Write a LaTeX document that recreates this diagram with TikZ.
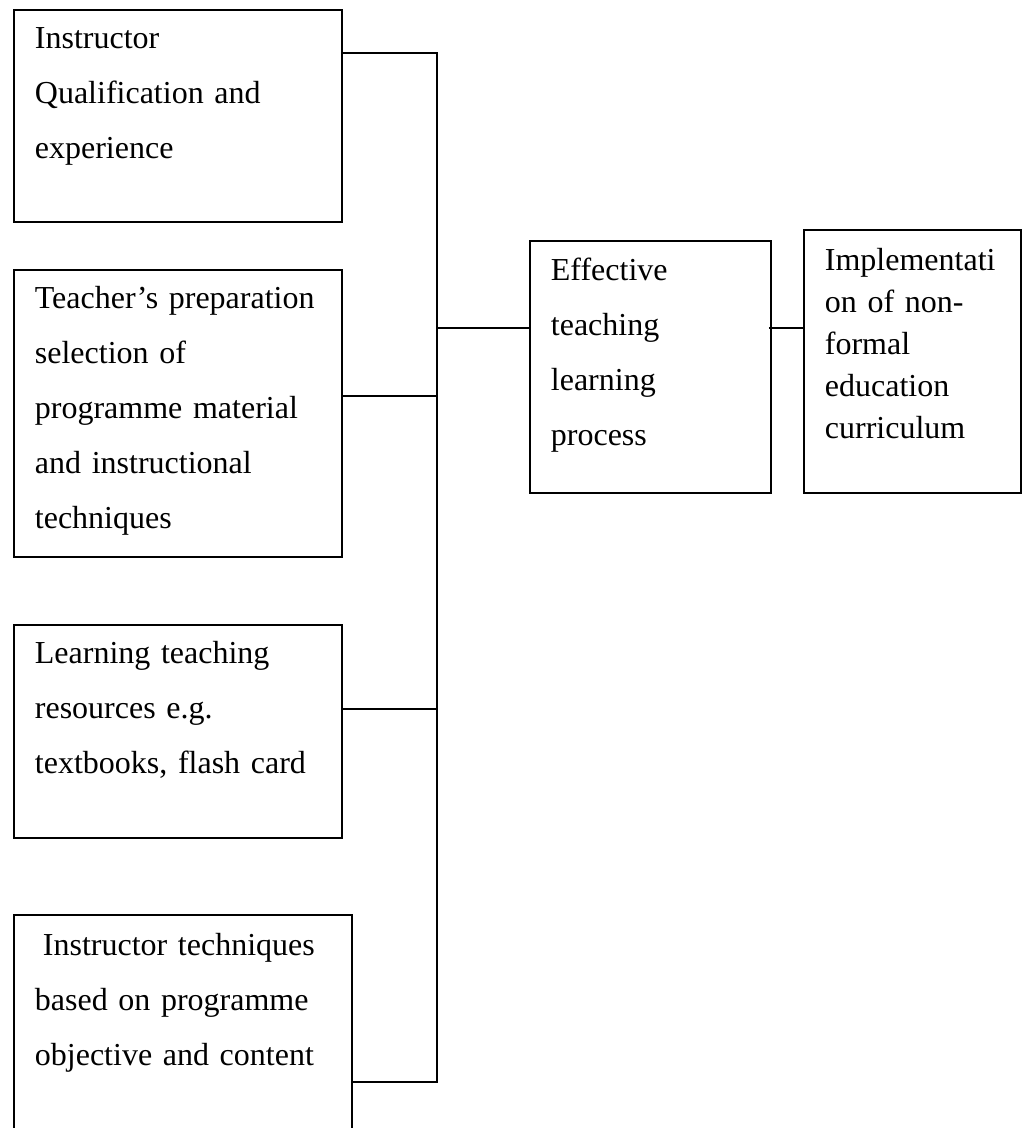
\documentclass[tikz,border=0pt]{standalone}
\usepackage{fontspec}
\setmainfont{Liberation Serif}
\usetikzlibrary{calc}
\begin{document}
\begin{tikzpicture}[x=0.5pt,y=-0.5pt,
   box/.style={draw,line width=0.9pt,anchor=north west,align=left,
     inner xsep=10.5pt,inner ysep=0pt,font=\fontsize{16}{27.5}\selectfont}]
   \useasboundingbox (0,0) rectangle (1026,1128);
   % factor boxes on the left
   \node [box,text width=143pt,text height=19.5pt,text depth=86.5pt] (qual) at (13,9)
     {Instructor\\Qualification and\\experience};
   \node [box,text width=143pt,text height=19.5pt,text depth=124pt] (prep) at (13,269)
     {Teacher’s preparation\\selection of\\programme material\\and instructional\\techniques};
   \node [box,text width=143pt,text height=19.5pt,text depth=87pt] (res) at (13,624)
     {Learning teaching\\resources e.g.\\textbooks, flash card};
   \node [box,text width=148pt,text height=20.5pt,text depth=113pt] (tech) at (13,914)
     {\hspace*{0.25em}Instructor techniques\\based on programme\\objective and content};
   % process and outcome
   \node [box,text width=99.5pt,text height=20pt,text depth=106pt] (proc) at (529,240)
     {Effective\\teaching\\learning\\process};
   \node [box,text width=87.5pt,text height=20.5pt,text depth=111pt,
     font=\fontsize{16}{21}\selectfont] (impl) at (803,229)
     {Implementati\\on of non-\\formal\\education\\curriculum};
   % trunk
   \coordinate (j1) at (437,53);
   \coordinate (j2) at (437,396);
   \coordinate (j3) at (437,709);
   \coordinate (j4) at (437,1082);
   \coordinate (jm) at (437,328);
   \draw [line width=0.9pt] (j1 -| qual.east) -- (j1) -- (j4) -- (j4 -| tech.east);
   \draw [line width=0.9pt] (j2 -| prep.east) -- (j2);
   \draw [line width=0.9pt] (j3 -| res.east) -- (j3);
   \draw [line width=0.9pt] (jm) -- (jm -| proc.west);
   \draw [line width=0.9pt] ($(jm -| proc.east)+(-3,0)$) -- (jm -| impl.west);
\end{tikzpicture}
\end{document}
